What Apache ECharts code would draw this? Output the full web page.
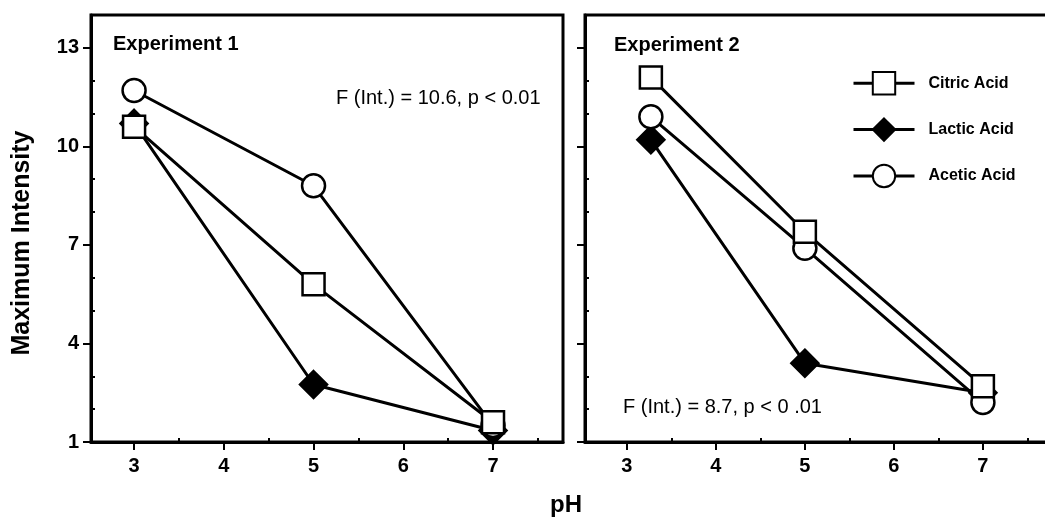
<!DOCTYPE html>
<html>
<head>
<meta charset="utf-8">
<script src="https://cdn.jsdelivr.net/npm/echarts@6/dist/echarts.min.js"></script>
<style>
  html, body { margin: 0; padding: 0; background: #fff; }
  #chart { width: 1045px; height: 518px; }
</style>
</head>
<body>
<div id="chart"></div>
<script>
var FONT = "'Liberation Sans', Arial, sans-serif";

// pH levels (experiment 2 points sit a bit right of pH 3 in the original)
var phExp1 = [3, 5, 7];
var phExp2 = [3.27, 5, 7];

var exp1Citric = [10.6, 5.8, 1.6];
var exp1Lactic = [10.7, 2.75, 1.35];
var exp1Acetic = [11.7, 8.8, 1.5];

var exp2Citric = [12.1, 7.4, 2.7];
var exp2Lactic = [10.2, 3.4, 2.5];
var exp2Acetic = [10.9, 6.9, 2.2];

var xMajor = [3, 4, 5, 6, 7];
var xMinor = [3.5, 4.5, 5.5, 6.5, 7.5];
var yLabels = [1, 4, 7, 10, 13];
var yMinor = [2, 3, 5, 6, 8, 9, 11, 12];

function pairs(xs, ys) {
    return xs.map(function (x, i) { return [x, ys[i]]; });
}

var myChart = echarts.init(document.getElementById('chart'));

function xAxes(gridIndex, min, max) {
    return [
        {
            type: 'value', gridIndex: gridIndex, position: 'bottom', min: min, max: max,
            splitLine: { show: false },
            axisLine: { lineStyle: { color: '#000', width: 3 } },
            axisTick: { customValues: xMajor, length: 8, lineStyle: { color: '#000', width: 2 } },
            axisLabel: { customValues: xMajor, margin: 14, color: '#000', fontSize: 20, fontWeight: 'bold', fontFamily: FONT }
        },
        {
            type: 'value', gridIndex: gridIndex, position: 'bottom', min: min, max: max,
            splitLine: { show: false },
            axisLine: { show: false },
            axisTick: { customValues: xMinor, inside: true, length: 4, lineStyle: { color: '#000', width: 2 } },
            axisLabel: { show: false }
        }
    ];
}

function yAxes(gridIndex, showLabels) {
    return [
        {
            type: 'value', gridIndex: gridIndex, position: 'left', min: 1, max: 14,
            splitLine: { show: false },
            axisLine: { lineStyle: { color: '#000', width: 3 } },
            axisTick: { customValues: yLabels, length: 8, lineStyle: { color: '#000', width: 2 } },
            axisLabel: { show: showLabels, customValues: yLabels, margin: 12, color: '#000', fontSize: 20, fontWeight: 'bold', fontFamily: FONT }
        },
        {
            type: 'value', gridIndex: gridIndex, position: 'left', min: 1, max: 14,
            splitLine: { show: false },
            axisLine: { show: false },
            axisTick: { customValues: yMinor, inside: true, length: 4, lineStyle: { color: '#000', width: 2 } },
            axisLabel: { show: false }
        }
    ];
}

var lineStyle = { color: '#000', width: 3 };

function seriesFor(name, symbol, size, fill, xs, ys, axisIndex) {
    return {
        name: name,
        type: 'line',
        xAxisIndex: axisIndex,
        yAxisIndex: axisIndex,
        data: pairs(xs, ys),
        symbol: symbol,
        symbolSize: size,
        showAllSymbol: true,
        lineStyle: lineStyle,
        itemStyle: { color: fill, borderColor: '#000', borderWidth: 2.5 },
        emphasis: { disabled: true }
    };
}

var option = {
    animation: false,
    backgroundColor: '#fff',
    grid: [
        { left: 91, top: 15, width: 472, height: 427, outerBoundsMode: 'none', show: true, borderColor: '#000', borderWidth: 3 },
        { left: 585, top: 15, width: 470, height: 427, outerBoundsMode: 'none', show: true, borderColor: '#000', borderWidth: 3 }
    ],
    xAxis: xAxes(0, 2.52, 7.78).concat(xAxes(1, 2.53, 7.81)),
    yAxis: yAxes(0, true).concat(yAxes(1, false)),
    legend: {
        data: ['Citric Acid', 'Lactic Acid', 'Acetic Acid'],
        orient: 'vertical',
        left: 847,
        top: 66,
        itemWidth: 61,
        itemHeight: 28,
        itemGap: 22,
        lineStyle: { width: 3 },
        textStyle: { color: '#000', fontSize: 16, fontWeight: 'bold', fontFamily: FONT, padding: [0, 0, 0, 9] }
    },
    graphic: [
        { type: 'text', left: 113, top: 34, style: { text: 'Experiment 1', fill: '#000', font: 'bold 20px ' + FONT } },
        { type: 'text', left: 336, top: 88, style: { text: 'F (Int.) = 10.6, p < 0.01', fill: '#000', font: '20px ' + FONT } },
        { type: 'text', left: 614, top: 35, style: { text: 'Experiment 2', fill: '#000', font: 'bold 20px ' + FONT } },
        { type: 'text', left: 623, top: 397, style: { text: 'F (Int.) = 8.7, p < 0 .01', fill: '#000', font: '20px ' + FONT } },
        { type: 'text', x: 22, y: 243, rotation: Math.PI / 2, style: { text: 'Maximum Intensity', fill: '#000', font: 'bold 25px ' + FONT, align: 'center', verticalAlign: 'middle' } },
        { type: 'text', x: 566, y: 505, style: { text: 'pH', fill: '#000', font: 'bold 24px ' + FONT, align: 'center', verticalAlign: 'middle' } }
    ],
    series: [
        seriesFor('Lactic Acid', 'diamond', 27, '#000', phExp1, exp1Lactic, 0),
        seriesFor('Acetic Acid', 'circle', 23, '#fff', phExp1, exp1Acetic, 0),
        seriesFor('Citric Acid', 'rect', 22, '#fff', phExp1, exp1Citric, 0),
        seriesFor('Lactic Acid', 'diamond', 27, '#000', phExp2, exp2Lactic, 2),
        seriesFor('Acetic Acid', 'circle', 23, '#fff', phExp2, exp2Acetic, 2),
        seriesFor('Citric Acid', 'rect', 22, '#fff', phExp2, exp2Citric, 2)
    ]
};

myChart.setOption(option);
</script>
</body>
</html>
